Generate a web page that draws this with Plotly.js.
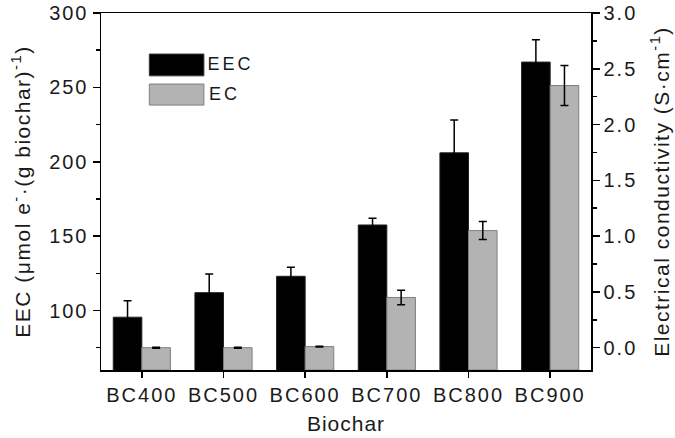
<!DOCTYPE html>
<html>
<head>
<meta charset="utf-8">
<script src="https://cdn.plot.ly/plotly-3.0.1.min.js"></script>
<style>
body{margin:0;padding:0;background:#fff;}
#chart g.xtick text, #chart g.ytick text, #chart g.y2tick text { letter-spacing: 2px; }
#chart text.xtitle { letter-spacing: 1px; }
#chart text.ytitle, #chart text.y2title { letter-spacing: 1.5px; }
#chart g.annotation text { letter-spacing: 3px; }
</style>
</head>
<body>
<div id="chart" style="width:675px;height:438px;"></div>
<script>
const categories = ['BC400', 'BC500', 'BC600', 'BC700', 'BC800', 'BC900'];
const eecValues = [95.5, 112, 123, 157.5, 206, 267];
const eecErrors = [11, 12.5, 6, 4.5, 22, 15];
const ecValues = [0.0, 0.0, 0.01, 0.45, 1.05, 2.35];
const ecErrors = [0.004, 0.004, 0.004, 0.065, 0.08, 0.18];
const seriesNames = ['EEC', 'EC'];
const ecAxisBottom = -0.2;

const FONT = 'Liberation Sans, Arial, sans-serif';
const TXT = '#1a1a1a';

const traces = [
  {
    type: 'bar', name: seriesNames[0], x: categories, y: eecValues,
    yaxis: 'y', width: 0.35, offset: -0.35,
    marker: {color: '#000000', line: {color: '#222222', width: 1}},
    error_y: {type: 'data', array: eecErrors, visible: true, color: '#000', thickness: 1.5, width: 4},
    showlegend: false
  },
  {
    type: 'bar', name: seriesNames[1], x: categories,
    y: ecValues.map(v => v - ecAxisBottom), base: ecAxisBottom,
    yaxis: 'y2', width: 0.35, offset: 0,
    marker: {color: '#b3b3b3', line: {color: '#7f7f7f', width: 1}},
    error_y: {type: 'data', array: ecErrors, visible: true, color: '#000', thickness: 1.5, width: 4},
    showlegend: false
  }
];

const layout = {
  width: 675, height: 438,
  margin: {l: 101, r: 84, t: 13, b: 68},
  paper_bgcolor: '#fff', plot_bgcolor: '#fff',
  font: {family: FONT, size: 20, color: TXT},
  showlegend: false,
  xaxis: {
    type: 'category', range: [-0.5, 5.5],
    showline: true, linecolor: '#000', linewidth: 1.5, mirror: true,
    ticks: 'outside', ticklen: 6, tickwidth: 1.5, tickcolor: '#000',
    showgrid: false, zeroline: false,
    tickfont: {family: FONT, size: 20, color: TXT},
    title: {text: 'Biochar', font: {family: FONT, size: 21, color: TXT}, standoff: 12}
  },
  yaxis: {
    range: [60, 300], dtick: 50, tick0: 0,
    showline: true, linecolor: '#000', linewidth: 1.5, mirror: false,
    ticks: 'outside', ticklen: 7, tickwidth: 1.5, tickcolor: '#000',
    minor: {dtick: 25, tick0: 0, ticks: 'outside', ticklen: 4, tickwidth: 1.5, tickcolor: '#000', showgrid: false},
    showgrid: false, zeroline: false,
    tickfont: {family: FONT, size: 20, color: TXT},
    title: {text: 'EEC (μmol e<sup>-</sup>·(g biochar)<sup>-1</sup>)', font: {family: FONT, size: 21, color: TXT}, standoff: 19}
  },
  yaxis2: {
    overlaying: 'y', side: 'right', range: [ecAxisBottom, 3.0], dtick: 0.5, tick0: 0,
    tickformat: '.1f',
    showline: true, linecolor: '#000', linewidth: 1.5,
    ticks: 'outside', ticklen: 7, tickwidth: 1.5, tickcolor: '#000',
    minor: {dtick: 0.25, tick0: 0, ticks: 'outside', ticklen: 4, tickwidth: 1.5, tickcolor: '#000', showgrid: false},
    showgrid: false, zeroline: false,
    tickfont: {family: FONT, size: 20, color: TXT},
    title: {text: 'Electrical conductivity (S·cm<sup>-1</sup>)', font: {family: FONT, size: 21, color: TXT}, standoff: 24}
  },
  shapes: [
    {type: 'rect', xref: 'paper', yref: 'paper', x0: 0.0986, x1: 0.210, y0: 0.824, y1: 0.885,
     fillcolor: '#000', line: {color: '#333', width: 1}},
    {type: 'rect', xref: 'paper', yref: 'paper', x0: 0.0986, x1: 0.210, y0: 0.742, y1: 0.801,
     fillcolor: '#b3b3b3', line: {color: '#7f7f7f', width: 1}}
  ],
  annotations: [
    {xref: 'paper', yref: 'paper', x: 0.222, y: 0.857, xanchor: 'left', yanchor: 'middle',
     text: seriesNames[0], showarrow: false, font: {family: FONT, size: 18, color: TXT}},
    {xref: 'paper', yref: 'paper', x: 0.222, y: 0.772, xanchor: 'left', yanchor: 'middle',
     text: seriesNames[1], showarrow: false, font: {family: FONT, size: 18, color: TXT}}
  ]
};

Plotly.newPlot('chart', traces, layout, {displayModeBar: false, staticPlot: true});
</script>
</body>
</html>
